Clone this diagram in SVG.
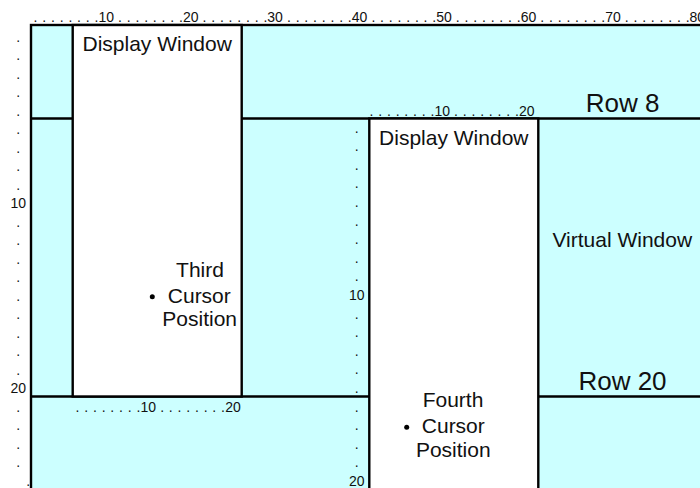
<svg xmlns="http://www.w3.org/2000/svg" width="700" height="488" viewBox="0 0 700 488">
  <style>
    text { font-family: "Liberation Sans", Arial, Helvetica, sans-serif; fill: #111; }
    .ruler { font-size: 14px; }
    .rm { text-anchor: middle; }
    .lbl { font-size: 21px; text-anchor: middle; }
    .row { font-size: 26px; text-anchor: middle; }
    .edge { stroke: #000; stroke-width: 2.4; }
    .cursor { fill: #000; }
  </style>
  <g id="virtual-window">
    <rect x="31" y="25" width="690" height="480" fill="#CCFFFF" class="edge"/>
  </g>
  <g id="row-lines">
    <line x1="31" y1="118.5" x2="702" y2="118.5" class="edge"/>
    <line x1="31" y1="396.5" x2="702" y2="396.5" class="edge"/>
  </g>
  <g id="display-window-1">
    <rect x="72.7" y="25" width="169" height="371.5" fill="#FFFFFF" class="edge"/>
    <text class="lbl" x="157.2" y="51">Display Window</text>
  </g>
  <g id="display-window-2">
    <rect x="369.3" y="118.5" width="169" height="385" fill="#FFFFFF" class="edge"/>
    <text class="lbl" x="453.8" y="145">Display Window</text>
  </g>
  <g id="top-ruler">
    <text class="ruler" y="21.5"><tspan x="33.6 42.3 51 59.7 68.4 77.1 85.8 94.5">........</tspan><tspan x="98.43">10</tspan><tspan x="118.05 126.75 135.45 144.15 152.85 161.55 170.25 178.95">........</tspan><tspan x="182.88">20</tspan><tspan x="202.5 211.2 219.9 228.6 237.3 246 254.7 263.4">........</tspan><tspan x="267.33">30</tspan><tspan x="286.95 295.65 304.35 313.05 321.75 330.45 339.15 347.85">........</tspan><tspan x="351.78">40</tspan><tspan x="371.4 380.1 388.8 397.5 406.2 414.9 423.6 432.3">........</tspan><tspan x="436.23">50</tspan><tspan x="455.85 464.55 473.25 481.95 490.65 499.35 508.05 516.75">........</tspan><tspan x="520.68">60</tspan><tspan x="540.3 549 557.7 566.4 575.1 583.8 592.5 601.2">........</tspan><tspan x="605.13">70</tspan><tspan x="624.75 633.45 642.15 650.85 659.55 668.25 676.95 685.65">........</tspan><tspan x="689.58">80</tspan></text>
  </g>
  <g id="left-ruler">
    <text class="ruler rm"><tspan x="18.3 18.3 18.3 18.3 18.3 18.3 18.3 18.3 18.3" y="41.8 60.3 78.8 97.3 115.8 134.3 152.8 171.3 189.8">.........</tspan><tspan x="18.3" y="208.3">10</tspan><tspan x="18.3 18.3 18.3 18.3 18.3 18.3 18.3 18.3 18.3" y="226.8 245.3 263.8 282.3 300.8 319.3 337.8 356.3 374.8">.........</tspan><tspan x="18.3" y="393.3">20</tspan><tspan x="18.3 18.3 18.3 18.3 28.3" y="411.8 430.3 448.8 467.3 486.3">.....</tspan></text>
  </g>
  <g id="inner-ruler">
    <text class="ruler rm"><tspan x="356.7 356.7 356.7 356.7 356.7 356.7 356.7 356.7 356.7" y="132.6 151.2 169.8 188.4 207 225.6 244.2 262.8 281.4">.........</tspan><tspan x="356.7" y="300">10</tspan><tspan x="356.7 356.7 356.7 356.7 356.7 356.7 356.7 356.7 356.7" y="318.6 337.2 355.8 374.4 393 411.6 430.2 448.8 467.4">.........</tspan><tspan x="356.7" y="486">20</tspan></text>
  </g>
  <g id="window-1-ruler">
    <text class="ruler" y="412.3"><tspan x="75.55 84.25 92.95 101.65 110.35 119.05 127.75 136.45">........</tspan><tspan x="140.53">10</tspan><tspan x="160.15 168.85 177.55 186.25 194.95 203.65 212.35 221.05">........</tspan><tspan x="225.13">20</tspan></text>
  </g>
  <g id="window-2-ruler">
    <text class="ruler" y="115.7"><tspan x="369.55 378.25 386.95 395.65 404.35 413.05 421.75 430.45">........</tspan><tspan x="434.43">10</tspan><tspan x="454.05 462.75 471.45 480.15 488.85 497.55 506.25 514.95">........</tspan><tspan x="518.93">20</tspan></text>
  </g>
  <g id="labels">
    <text class="row" x="622.5" y="111.7">Row 8</text>
    <text class="lbl" x="622.3" y="246.7">Virtual Window</text>
    <text class="row" x="622.5" y="390">Row 20</text>
  </g>
  <g id="third-cursor">
    <circle class="cursor" cx="152.3" cy="296.7" r="2.5"/>
    <text class="lbl" x="200" y="277.3">Third</text>
    <text class="lbl" x="199.3" y="302.5">Cursor</text>
    <text class="lbl" x="199.7" y="326.2">Position</text>
  </g>
  <g id="fourth-cursor">
    <circle class="cursor" cx="406.7" cy="427.3" r="2.5"/>
    <text class="lbl" x="453" y="407.3">Fourth</text>
    <text class="lbl" x="453.3" y="432.5">Cursor</text>
    <text class="lbl" x="453.3" y="456.7">Position</text>
  </g>
</svg>
